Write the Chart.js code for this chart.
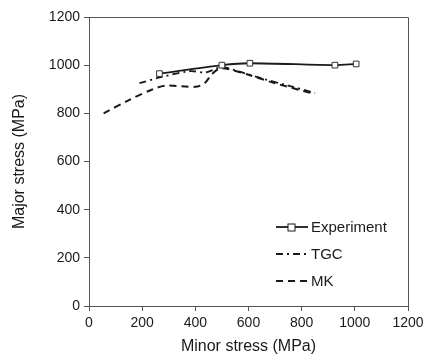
<!DOCTYPE html>
<html>
<head>
<meta charset="utf-8">
<script src="https://cdn.jsdelivr.net/npm/chart.js@4/dist/chart.umd.min.js"></script>
<style>
  html, body { margin: 0; padding: 0; background: #fff; }
  #wrap { width: 434px; height: 363px; }
</style>
</head>
<body>
<div id="wrap"><canvas id="myChart" width="434" height="363"></canvas></div>
<script>
// data (MPa)
const expMinor = [265, 500, 605, 925, 1005];
const expMajor = [965, 1000, 1008, 1000, 1005];
const tgcMinor = [190, 270, 380, 440, 500, 560, 650, 750, 850];
const tgcMajor = [925, 950, 975, 970, 992, 975, 945, 915, 885];
const mkMinor = [55, 150, 240, 290, 400, 435, 460, 490, 520, 600, 700, 850];
const mkMajor = [800, 855, 900, 915, 910, 925, 960, 985, 985, 960, 925, 880];
const axisTicks = [0, 200, 400, 600, 800, 1000, 1200];
const seriesNames = ['Experiment', 'TGC', 'MK'];

function toPoints(xs, ys) {
    return xs.map((x, i) => ({x: x, y: ys[i]}));
}

const ink = '#1a1a1a';
const font = "'Liberation Sans', Arial, sans-serif";

// box around plot + legend inside the plot
const boxAndLegend = {
    id: 'boxAndLegend',
    afterDraw(chart) {
        const ctx = chart.ctx;
        const a = chart.chartArea;
        ctx.save();
        ctx.strokeStyle = '#555';
        ctx.lineWidth = 1;
        ctx.beginPath();
        ctx.moveTo(a.left, a.top + 0.5);
        ctx.lineTo(a.right + 0.5, a.top + 0.5);
        ctx.lineTo(a.right + 0.5, a.bottom);
        ctx.stroke();

        const x0 = a.left + 187, x1 = a.left + 219;
        let y = a.top + 210;
        chart.data.datasets.forEach((ds, i) => {
            ctx.strokeStyle = ink;
            ctx.lineWidth = 1.8;
            ctx.setLineDash(ds.borderDash || []);
            ctx.beginPath();
            ctx.moveTo(x0, y);
            ctx.lineTo(x1, y);
            ctx.stroke();
            ctx.setLineDash([]);
            if (ds.pointRadius > 0) {
                ctx.fillStyle = '#fff';
                ctx.lineWidth = 1;
                ctx.fillRect(x0 + 12, y - 3, 7, 7);
                ctx.strokeRect(x0 + 12, y - 3, 7, 7);
            }
            ctx.fillStyle = ink;
            ctx.font = '15px ' + font;
            ctx.textBaseline = 'middle';
            ctx.fillText(seriesNames[i], x1 + 3, y + 1);
            y += 27;
        });
        ctx.restore();
    }
};

new Chart(document.getElementById('myChart').getContext('2d'), {
    type: 'scatter',
    data: {
        datasets: [{
            label: seriesNames[0],
            data: toPoints(expMinor, expMajor),
            showLine: true,
            borderColor: ink,
            borderWidth: 1.8,
            tension: 0.3,
            pointStyle: 'rect',
            pointRadius: 4,
            pointBackgroundColor: '#fff',
            pointBorderColor: '#333',
            pointBorderWidth: 1
        }, {
            label: seriesNames[1],
            data: toPoints(tgcMinor, tgcMajor),
            showLine: true,
            borderColor: ink,
            borderWidth: 1.8,
            borderDash: [7, 4, 2, 4],
            tension: 0.3,
            pointRadius: 0
        }, {
            label: seriesNames[2],
            data: toPoints(mkMinor, mkMajor),
            showLine: true,
            borderColor: ink,
            borderWidth: 2,
            borderDash: [7, 5],
            tension: 0.3,
            pointRadius: 0
        }]
    },
    options: {
        responsive: false,
        animation: false,
        layout: {padding: {left: 6, right: 26, top: 17, bottom: 3}},
        plugins: {
            legend: {display: false},
            tooltip: {enabled: false}
        },
        scales: {
            x: {
                type: 'linear',
                min: 0, max: 1200,
                afterBuildTicks: s => { s.ticks = axisTicks.map(v => ({value: v})); },
                afterFit: s => { s.height = 54; },
                border: {color: '#555', width: 1},
                grid: {drawOnChartArea: false, tickLength: 5, color: '#555'},
                ticks: {color: ink, font: {family: font, size: 14}, padding: 4, maxRotation: 0,
                        callback: v => String(v)},
                title: {display: true, text: 'Minor stress (MPa)', color: ink,
                        font: {family: font, size: 16}, padding: {top: 1}}
            },
            y: {
                type: 'linear',
                min: 0, max: 1200,
                afterBuildTicks: s => { s.ticks = axisTicks.map(v => ({value: v})); },
                afterFit: s => { s.width = 83; },
                border: {color: '#555', width: 1},
                grid: {drawOnChartArea: false, tickLength: 5, color: '#555'},
                ticks: {color: ink, font: {family: font, size: 14}, padding: 4,
                        callback: v => String(v)},
                title: {display: true, text: 'Major stress (MPa)', color: ink,
                        font: {family: font, size: 16}, padding: {bottom: 4}}
            }
        }
    },
    plugins: [boxAndLegend]
});
</script>
</body>
</html>
